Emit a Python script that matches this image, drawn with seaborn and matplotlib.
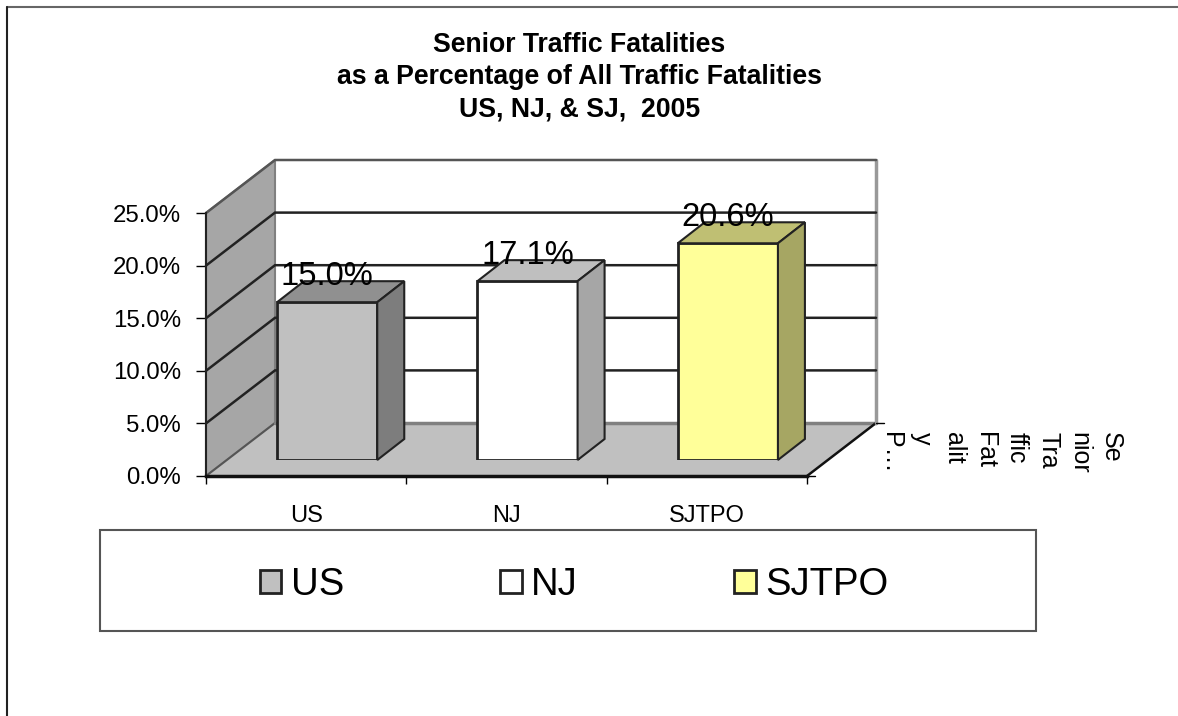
import matplotlib
matplotlib.use('Agg')
import matplotlib.pyplot as plt
import pandas as pd
import seaborn as sns
from matplotlib.colors import to_rgb
from matplotlib.lines import Line2D
from matplotlib.patches import Polygon, Rectangle

# Chart values
regions = ['US', 'NJ', 'SJTPO']
shares = [15.0, 17.1, 20.6]
plotted_heights = [15.0, 17.0, 20.6]
bar_colors = ['#C0C0C0', '#FFFFFF', '#FFFF99']
y_ticks = [0, 5, 10, 15, 20, 25]
title_lines = ['Senior Traffic Fatalities',
               'as a Percentage of All Traffic Fatalities',
               'US, NJ, & SJ,  2005']
depth_label_lines = ['Se', 'nior', 'Tra', 'ffic', 'Fat', 'alit', 'y', 'P…']

W, H = 1178, 716

sns.set_theme(style='white')
plt.rcParams['font.family'] = ['Liberation Sans', 'DejaVu Sans']

fig = plt.figure(figsize=(W / 100, H / 100), dpi=100, facecolor='white')


def px_axes(left, right, top, bottom, zorder):
    # axes placed using reference pixel positions
    ax = fig.add_axes([left / W, 1 - bottom / H, (right - left) / W, (bottom - top) / H])
    ax.set_zorder(zorder)
    ax.patch.set_visible(False)
    return ax


def shade(color, factor):
    return tuple(c * factor for c in to_rgb(color))


# Front plane of the fake 3D box: walls and axis ticks
ax_front = px_axes(206, 807, 213, 476, 1)
ax_front.set_xlim(-0.5, 2.5)
ax_front.set_ylim(0, 25)

# How far the back wall sits from the front plane, in data units
wall_dx = 69 / 200.33
wall_dy = 53 / 10.52

left_wall = [(-0.5, 0), (-0.5 + wall_dx, wall_dy), (-0.5 + wall_dx, 25 + wall_dy), (-0.5, 25)]
floor = [(-0.5, 0), (2.5, 0), (2.5 + wall_dx, wall_dy), (-0.5 + wall_dx, wall_dy)]
ax_front.add_patch(Polygon(left_wall, facecolor='#A6A6A6', edgecolor='#808080', lw=1.5, clip_on=False))
ax_front.add_patch(Polygon(floor, facecolor='#C0C0C0', edgecolor='none', clip_on=False))

# Floor edges
ax_front.plot([-0.5, -0.5 + wall_dx], [0, wall_dy], color='#555555', lw=1.5, clip_on=False)
ax_front.plot([-0.5 + wall_dx, 2.5 + wall_dx], [wall_dy, wall_dy], color='#808080', lw=2.5, clip_on=False)
ax_front.plot([2.5, 2.5 + wall_dx], [0, wall_dy], color='#111111', lw=1.8, clip_on=False)
ax_front.plot([2.5 + wall_dx, 2.5 + wall_dx], [wall_dy, 25 + wall_dy], color='#999999', lw=2.5, clip_on=False)
ax_front.plot([2.5 + wall_dx, 2.5 + wall_dx + 0.04], [wall_dy, wall_dy], color='black', lw=1, clip_on=False)
ax_front.plot([2.5, 2.54], [0, 0], color='black', lw=1, clip_on=False)

# Gridlines run along the side wall and across the back wall
for v in y_ticks[1:]:
    edge = '#555555' if v == 25 else '#222222'
    ax_front.plot([-0.5, -0.5 + wall_dx, 2.5 + wall_dx], [v, v + wall_dy, v + wall_dy],
                  color=edge, lw=1.8, clip_on=False, solid_joinstyle='miter')

ax_front.set_yticks(y_ticks)
ax_front.set_yticklabels([f'{v:.1f}%' for v in y_ticks], fontsize=17.3, color='black',
                         va='center_baseline')
ax_front.set_xticks([-0.5, 0.5, 1.5, 2.5])
ax_front.set_xticklabels([])
ax_front.set_xticks([0, 1, 2], minor=True)
ax_front.set_xticklabels(regions, minor=True, fontsize=17, color='black')
ax_front.tick_params(axis='y', length=7, width=1, color='black', pad=11, left=True)
ax_front.tick_params(axis='x', which='major', length=6, width=1, color='black', bottom=True)
ax_front.tick_params(axis='x', which='minor', length=0, pad=21)
ax_front.set_xlabel('')
sns.despine(ax=ax_front)
ax_front.spines['left'].set(color='#222222', linewidth=1.5)
ax_front.spines['bottom'].set(color='#111111', linewidth=2.5)

# Bars stand a little behind the front plane
ax_bars = px_axes(227, 828, 197, 460, 2)
data = pd.DataFrame({'region': regions, 'share': plotted_heights})
sns.barplot(data=data, x='region', y='share', hue='region', palette=bar_colors, order=regions,
            hue_order=regions, width=0.5, dodge=False, edgecolor='#222222', linewidth=2,
            saturation=1, ax=ax_bars, legend=True)
ax_bars.set_xlim(-0.5, 2.5)
ax_bars.set_ylim(0, 25)
ax_bars.axis('off')

# Side and top faces worked out from each drawn bar
bar_dx = 27 / 200.33
bar_dy = 21 / 10.52
for container, color, value in zip(ax_bars.containers, bar_colors, shares):
    bar = container[0]
    x0, x1, top = bar.get_x(), bar.get_x() + bar.get_width(), bar.get_height()
    top_face = [(x0, top), (x1, top), (x1 + bar_dx, top + bar_dy), (x0 + bar_dx, top + bar_dy)]
    side_face = [(x1, 0), (x1 + bar_dx, bar_dy), (x1 + bar_dx, top + bar_dy), (x1, top)]
    ax_bars.add_patch(Polygon(top_face, facecolor=shade(color, 0.75), edgecolor='#222222', lw=1.5,
                              clip_on=False))
    ax_bars.add_patch(Polygon(side_face, facecolor=shade(color, 0.65), edgecolor='#222222', lw=1.5,
                              clip_on=False))
    ax_bars.bar_label(container, labels=[f'{value:.1f}%'], padding=7.6, fontsize=23.6,
                      color='black', zorder=6, clip_on=False)

# Legend in its own box
handles, labels = ax_bars.get_legend_handles_labels()
ax_bars.get_legend().remove()
fig.patches.append(Rectangle((100 / W, 1 - 631 / H), 936 / W, 101 / H, transform=fig.transFigure,
                             facecolor='white', edgecolor='#555555', lw=1.5, figure=fig, zorder=1))
legend = fig.legend(handles, labels, loc='center', bbox_to_anchor=(574 / W, 1 - 585 / H), ncol=3,
                    frameon=False, fontsize=27.5, handlelength=0.56, handleheight=0.56,
                    handletextpad=0.24, columnspacing=4.1, borderpad=0, labelcolor='black')
legend.set_zorder(5)

# Title
fig.text(579.5 / W, 1 - 77 / H, '\n'.join(title_lines), ha='center', va='center', fontsize=19.2,
         fontweight='bold', color='black', linespacing=1.32)

# Depth axis label, wrapped like the spreadsheet did it
fig.text(1001 / W, 1 - 432 / H, '\n'.join(depth_label_lines), rotation=-90, ha='center', va='top',
         multialignment='left', fontsize=18, color='black', linespacing=1.395)

# Outer chart border, cut by the image edge
fig.add_artist(Line2D([7 / W, 1], [1 - 6.5 / H, 1 - 6.5 / H], color='#666666', lw=1.5))
fig.add_artist(Line2D([7 / W, 7 / W], [1 - 6.5 / H, 0], color='#222222', lw=1.5))

fig.savefig('out.png', dpi=100)
